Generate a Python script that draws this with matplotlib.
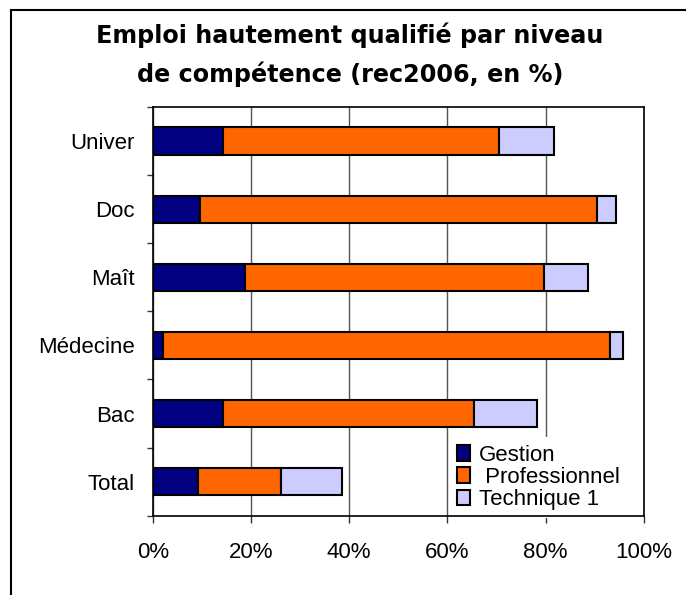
import numpy as np
import matplotlib.pyplot as plt
from matplotlib.patches import Rectangle, Patch

categories = ["Univer", "Doc", "Maît", "Médecine", "Bac", "Total"]
gestion = [14.4, 9.6, 18.8, 2.0, 14.4, 9.2]
professionnel = [56.0, 80.8, 60.8, 91.0, 51.0, 16.9]
technique = [11.3, 4.0, 9.0, 2.7, 12.8, 12.4]
series_names = ["Gestion", " Professionnel", "Technique 1"]
series_colors = ["#000080", "#FF6600", "#CCCCFF"]
xtick_values = [0, 20, 40, 60, 80, 100]

W, H = 686, 595
fig = plt.figure(figsize=(W / 100, H / 100), dpi=100)
fig.patch.set_facecolor("white")

# outer frame (left and top edges visible)
fig.add_artist(Rectangle((11 / W, -0.05), 1.2, 1 - 10 / H + 0.05,
                         transform=fig.transFigure, fill=False,
                         edgecolor="black", linewidth=1.5, zorder=0))

left, right, top, bottom = 152.7, 644.0, 107.0, 515.7
ax = fig.add_axes([left / W, 1 - bottom / H, (right - left) / W, (bottom - top) / H])

tick_font = dict(family=["Liberation Sans", "DejaVu Sans"], size=16)

y = np.arange(len(categories))[::-1]
g = np.array(gestion)
p = np.array(professionnel)
t = np.array(technique)
bar_kw = dict(height=0.4, edgecolor="black", linewidth=1.5, zorder=3)
ax.barh(y, g, color=series_colors[0], label=series_names[0], **bar_kw)
ax.barh(y, p, left=g, color=series_colors[1], label=series_names[1], **bar_kw)
ax.barh(y, t, left=g + p, color=series_colors[2], label=series_names[2], **bar_kw)

ax.set_xlim(0, 100)
ax.set_ylim(-0.5, len(categories) - 0.5)

ax.set_xticks(xtick_values)
ax.set_xticklabels([f"{v}%" for v in xtick_values], fontdict=tick_font)
ax.set_yticks(y)
ax.set_yticklabels(categories, fontdict=tick_font)
ax.set_yticks(np.arange(-0.5, len(categories), 1), minor=True)

ax.tick_params(axis="y", which="major", length=0, pad=13)
ax.tick_params(axis="y", which="minor", length=4.3, width=1, direction="out", color="#333333")
ax.tick_params(axis="x", which="major", length=5, width=1, direction="out", pad=14, color="#333333")

ax.grid(axis="x", color="#555555", linewidth=1.0, zorder=0)
ax.set_axisbelow(True)
for s in ax.spines.values():
    s.set_linewidth(1.2)
    s.set_color("black")
    s.set_zorder(6)

handles = [Patch(facecolor=c, edgecolor="black", linewidth=1.5) for c in series_colors]
leg = ax.legend(handles, series_names, loc="upper left",
                bbox_to_anchor=(449 / W, 1 - 437 / H), bbox_transform=fig.transFigure,
                prop=dict(family="Liberation Sans", size=16), frameon=True,
                fancybox=False, edgecolor="none", facecolor="white", framealpha=1,
                borderpad=0.35, borderaxespad=0, handlelength=0.6, handleheight=0.68,
                handletextpad=0.4, labelspacing=0.05)
leg.set_zorder(5)

title_kw = dict(ha="center", va="baseline", fontsize=17.2, fontweight="bold",
                family="DejaVu Sans")
fig.text(350 / W, 1 - 43.3 / H, "Emploi hautement qualifié par niveau", **title_kw)
fig.text(350 / W, 1 - 82 / H, "de compétence (rec2006, en %)", **title_kw)

fig.savefig("out.png", dpi=100)
